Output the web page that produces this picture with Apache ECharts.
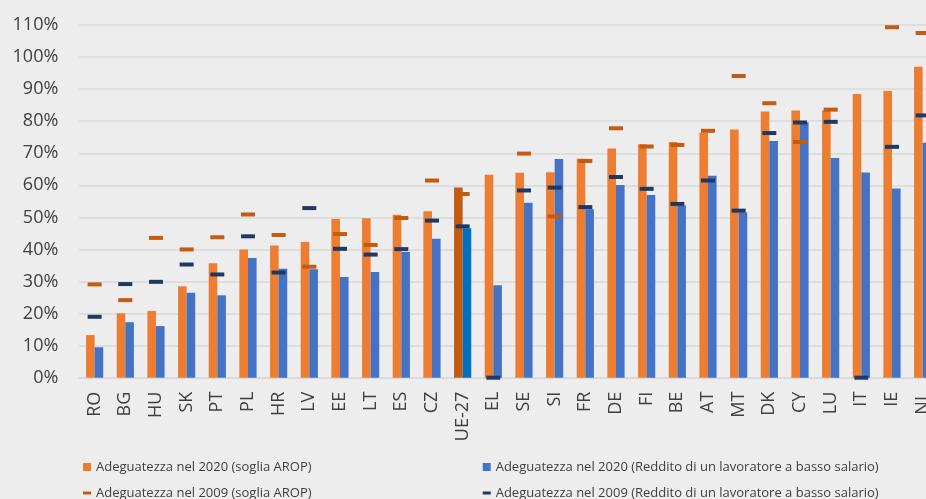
<!DOCTYPE html>
<html>
<head>
<meta charset="utf-8">
<script src="https://cdn.jsdelivr.net/npm/echarts@6/dist/echarts.min.js"></script>
<style>
  html, body { margin: 0; padding: 0; background: #ededed; }
  #chart { width: 926px; height: 499px; }
</style>
</head>
<body>
<div id="chart"></div>
<script>
// paesi, in ordine crescente di adeguatezza 2020 (soglia AROP)
var categories = ['RO', 'BG', 'HU', 'SK', 'PT', 'PL', 'HR', 'LV', 'EE', 'LT', 'ES', 'CZ', 'UE-27',
  'EL', 'SE', 'SI', 'FR', 'DE', 'FI', 'BE', 'AT', 'MT', 'DK', 'CY', 'LU', 'IT', 'IE', 'NL'];

var arop2020 = [13.3, 20.1, 20.8, 28.5, 35.7, 40.0, 41.2, 42.3, 49.5, 49.7, 50.8, 51.9, 59.3,
  63.3, 63.9, 64.1, 68.3, 71.5, 72.8, 73.5, 76.4, 77.4, 83.0, 83.3, 83.4, 88.5, 89.4, 97.0];
var salario2020 = [9.5, 17.3, 16.1, 26.5, 25.7, 37.3, 34.0, 33.8, 31.4, 33.0, 39.2, 43.3, 46.6,
  28.8, 54.6, 68.2, 52.5, 60.1, 57.0, 53.7, 63.0, 51.6, 73.8, 79.7, 68.5, 64.0, 59.0, 73.3];
var arop2009 = [29.1, 24.2, 43.6, 40.0, 43.8, 50.9, 44.5, 34.6, 44.8, 41.4, 49.8, 61.5, 57.3,
  null, 69.9, 50.3, 67.6, 77.8, 72.1, 72.6, 77.0, 94.1, 85.6, 73.5, 83.6, null, 109.3, 107.5];
var salario2009 = [19.0, 29.2, 29.9, 35.3, 32.2, 44.1, 32.8, 52.9, 40.2, 38.4, 40.1, 49.0, 47.2,
  0, 58.4, 59.3, 53.2, 62.6, 58.9, 54.2, 61.5, 52.1, 76.3, 79.6, 79.8, 0, 72.0, 81.8];

var names = [
  'Adeguatezza nel 2020 (soglia AROP)',
  'Adeguatezza nel 2020 (Reddito di un lavoratore a basso salario)',
  'Adeguatezza nel 2009 (soglia AROP)',
  'Adeguatezza nel 2009 (Reddito di un lavoratore a basso salario)'
];

var chart = echarts.init(document.getElementById('chart'));

// la barra UE-27 ha colori piu scuri
function colorEU(values, euColor) {
  return values.map(function (v, i) {
    if (categories[i] === 'UE-27') {
      return { value: v, itemStyle: { color: euColor } };
    }
    return v;
  });
}

function legendAt(name, left, top, isDash) {
  return {
    data: [name],
    left: left,
    top: top,
    padding: 0,
    itemWidth: 8,
    itemHeight: isDash ? 3 : 8,
    itemGap: 5,
    icon: 'rect',
    selectedMode: false,
    textStyle: {
      color: '#404040',
      fontSize: 13,
      lineHeight: 16,
      fontFamily: 'Open Sans'
    }
  };
}

var options = {
  backgroundColor: '#ededed',
  animation: false,
  textStyle: { fontFamily: 'Open Sans' },
  grid: {
    left: 79.3,
    width: 858.7, // il grafico originale e tagliato a destra
    top: 25,
    bottom: 121.3,
    containLabel: false,
    outerBoundsMode: 'none'
  },
  legend: [
    legendAt(names[0], 83, 459, false),
    legendAt(names[1], 482.7, 459, false),
    legendAt(names[2], 83, 485, true),
    legendAt(names[3], 482.7, 485, true)
  ],
  xAxis: {
    type: 'category',
    data: categories,
    axisLine: { lineStyle: { color: '#d9d9d9', width: 1.5 } },
    axisTick: { show: false },
    axisLabel: {
      rotate: 90,
      interval: 0,
      margin: 14,
      color: '#404040',
      fontSize: 18,
      fontFamily: 'Open Sans'
    }
  },
  yAxis: {
    type: 'value',
    min: 0,
    max: 110,
    interval: 10,
    axisLine: { show: false },
    axisTick: { show: false },
    splitLine: { lineStyle: { color: '#d9d9d9', width: 1.5 } },
    axisLabel: {
      formatter: '{value}%',
      margin: 21,
      color: '#404040',
      fontSize: 18,
      fontFamily: 'Open Sans'
    }
  },
  series: [
    {
      name: names[0],
      type: 'bar',
      barWidth: 8.6,
      barGap: 0,
      itemStyle: { color: '#ed7d31' },
      data: colorEU(arop2020, '#c55a11')
    },
    {
      name: names[1],
      type: 'bar',
      barWidth: 8.6,
      barGap: 0,
      itemStyle: { color: '#4472c4' },
      data: colorEU(salario2020, '#0070c0')
    },
    {
      name: names[2],
      type: 'scatter',
      symbol: 'rect',
      symbolSize: [14, 4],
      itemStyle: { color: '#c55a11', opacity: 1 },
      z: 3,
      data: arop2009
    },
    {
      name: names[3],
      type: 'scatter',
      symbol: 'rect',
      symbolSize: [14, 4],
      itemStyle: { color: '#1f3864', opacity: 1 },
      z: 3,
      data: salario2009
    }
  ]
};

chart.setOption(options);
</script>
</body>
</html>
